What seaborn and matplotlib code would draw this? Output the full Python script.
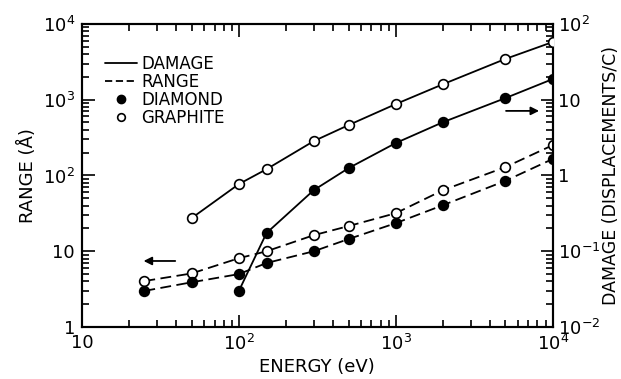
import numpy as np
import pandas as pd
import matplotlib
matplotlib.use("Agg")
import matplotlib.pyplot as plt
from matplotlib.lines import Line2D
from matplotlib.ticker import FixedLocator, NullFormatter, LogLocator
import seaborn as sns

# Energies (eV)
energy = [25, 50, 100, 150, 300, 500, 1000, 2000, 5000, 10000]

# Damage (displacements per C), right axis
damage_energy_graphite = [50, 100, 150, 300, 500, 1000, 2000, 5000, 10000]
damage_graphite = [0.274, 0.77, 1.21, 2.84, 4.62, 8.75, 16.0, 34.5, 57.6]
damage_energy_diamond = [100, 150, 300, 500, 1000, 2000, 5000, 10000]
damage_diamond = [0.030, 0.174, 0.64, 1.25, 2.68, 5.05, 10.5, 18.7]

# Range (Angstrom), left axis
range_graphite = [4.05, 5.1, 8.1, 10.0, 16.3, 21.5, 31.8, 64.0, 129.0, 251.0]
range_diamond = [3.0, 3.9, 5.0, 7.0, 10.0, 14.5, 23.5, 40.6, 85.0, 165.0]

x_ticks = [10, 100, 1000, 10000]
x_labels = ["10", "$10^2$", "$10^3$", "$10^4$"]
left_ticks = [1, 10, 100, 1000, 10000]
left_labels = ["1", "10", "$10^2$", "$10^3$", "$10^4$"]
right_ticks = [0.01, 0.1, 1, 10, 100]
right_labels = ["$10^{-2}$", "$10^{-1}$", "1", "10", "$10^2$"]

sns.set_style("ticks")
plt.rcParams["font.family"] = ["DejaVu Sans"]
plt.rcParams["mathtext.default"] = "regular"
plt.rcParams["text.color"] = "black"
plt.rcParams["axes.labelcolor"] = "black"
plt.rcParams["axes.edgecolor"] = "black"

fig = plt.figure(figsize=(6.21, 3.79), dpi=100)
ax = fig.add_axes([0.132, 0.137, 0.758, 0.800])
ax2 = ax.twinx()

FS = 13
lw = 1.3
dash = (6, 3)
ms = 7

range_df = pd.DataFrame({
    "energy": energy * 2,
    "range": range_graphite + range_diamond,
    "material": ["GRAPHITE"] * len(energy) + ["DIAMOND"] * len(energy),
})
damage_df = pd.DataFrame({
    "energy": damage_energy_graphite + damage_energy_diamond,
    "damage": damage_graphite + damage_diamond,
    "material": ["GRAPHITE"] * len(damage_energy_graphite) + ["DIAMOND"] * len(damage_energy_diamond),
})

face = {"GRAPHITE": "white", "DIAMOND": "black"}

for mat in ["GRAPHITE", "DIAMOND"]:
    sub = range_df[range_df["material"] == mat]
    sns.lineplot(data=sub, x="energy", y="range", ax=ax, color="black", lw=lw,
                 marker="o", markersize=ms, markerfacecolor=face[mat],
                 markeredgecolor="black", markeredgewidth=1.2,
                 legend=False, zorder=3)
    ax.lines[-1].set_dashes(dash)
    sub = damage_df[damage_df["material"] == mat]
    sns.lineplot(data=sub, x="energy", y="damage", ax=ax2, color="black", lw=lw,
                 marker="o", markersize=ms, markerfacecolor=face[mat],
                 markeredgecolor="black", markeredgewidth=1.2,
                 legend=False, zorder=3)

for a in (ax, ax2):
    a.set_xscale("log")
    a.set_yscale("log")
    a.set_xlim(10, 10000)
    for s in a.spines.values():
        s.set_linewidth(1.5)
        s.set_color("black")
        s.set_visible(True)

ax.set_ylim(1, 10000)
ax2.set_ylim(0.01, 100)

ax.xaxis.set_major_locator(FixedLocator(x_ticks))
ax.set_xticklabels(x_labels)
ax.xaxis.set_minor_locator(LogLocator(base=10, subs=np.arange(2, 10)))
ax.xaxis.set_minor_formatter(NullFormatter())
ax.yaxis.set_major_locator(FixedLocator(left_ticks))
ax.set_yticklabels(left_labels)
ax.yaxis.set_minor_locator(LogLocator(base=10, subs=np.arange(2, 10)))
ax.yaxis.set_minor_formatter(NullFormatter())
ax2.yaxis.set_major_locator(FixedLocator(right_ticks))
ax2.set_yticklabels(right_labels)
ax2.yaxis.set_minor_locator(LogLocator(base=10, subs=np.arange(2, 10)))
ax2.yaxis.set_minor_formatter(NullFormatter())

ax.tick_params(which="both", direction="in", top=True, bottom=True, left=True, right=False,
               labelsize=FS, width=1.2, colors="black", pad=5)
ax.tick_params(which="major", length=9)
ax.tick_params(which="minor", length=5)
ax2.tick_params(which="both", direction="in", right=True, left=False, top=False,
                labelsize=FS, width=1.2, colors="black", pad=4)
ax2.tick_params(which="major", length=9)
ax2.tick_params(which="minor", length=5)

ax.set_xlabel("ENERGY (eV)", fontsize=FS, labelpad=3, color="black")
ax.set_ylabel("RANGE (Å)", fontsize=FS, labelpad=4, color="black")
ax2.set_ylabel("DAMAGE (DISPLACEMENTS/C)", fontsize=12.5, labelpad=1, color="black")

# Arrows indicating which axis each family of curves belongs to
ax.annotate("", xy=(0.125, 0.218), xytext=(0.204, 0.218), xycoords="axes fraction",
            arrowprops=dict(arrowstyle="-|>", color="black", lw=1.3, mutation_scale=12))
ax.annotate("", xy=(0.977, 0.713), xytext=(0.895, 0.713), xycoords="axes fraction",
            arrowprops=dict(arrowstyle="-|>", color="black", lw=1.3, mutation_scale=12))

handles = [
    Line2D([], [], color="black", lw=lw),
    Line2D([], [], color="black", lw=lw, dashes=(4, 2)),
    Line2D([], [], color="black", lw=0, marker="o", markersize=6, markerfacecolor="black"),
    Line2D([], [], color="black", lw=0, marker="o", markersize=5.5, markerfacecolor="white",
           markeredgewidth=1.2),
]
labels = ["DAMAGE", "RANGE", "DIAMOND", "GRAPHITE"]
leg = ax2.legend(handles, labels, loc="upper left", bbox_to_anchor=(0.035, 0.92),
                 frameon=False, fontsize=12, handlelength=1.9, handletextpad=0.25,
                 labelspacing=0.0, borderaxespad=0, labelcolor="black")

fig.savefig("out.png", dpi=100)
